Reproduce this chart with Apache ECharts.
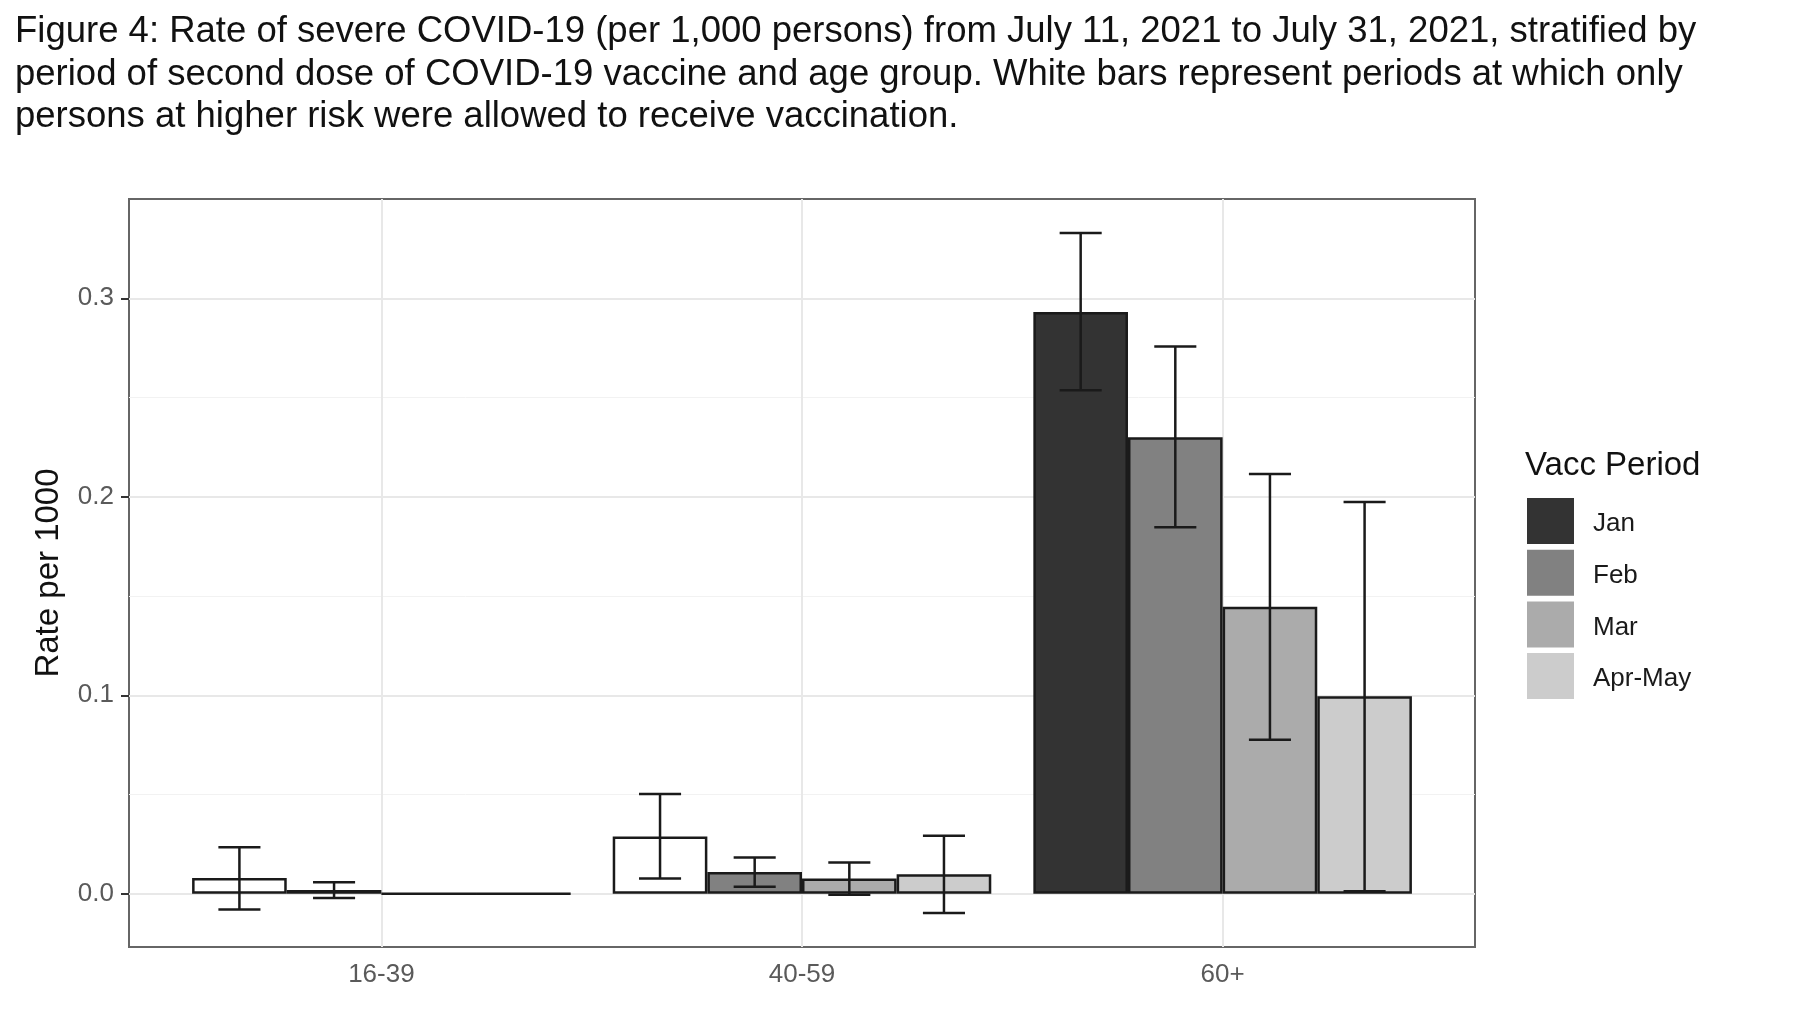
<!DOCTYPE html>
<html>
<head>
<meta charset="utf-8">
<title>Rate of severe COVID-19 by vaccination period and age group</title>
<script src="https://cdn.jsdelivr.net/npm/echarts@6.0.0/dist/echarts.min.js"></script>
<style>
  html, body { margin: 0; padding: 0; background: #fff; }
  #chart { width: 1800px; height: 1024px; }
</style>
</head>
<body>
<div id="chart"></div>
<script>
const ageGroups = ['16-39', '40-59', '60+'];
const periods = ['Jan', 'Feb', 'Mar', 'Apr-May'];

// rate per 1000, one value per age group
const rateJan = [0.0079, 0.0288, 0.2931];
const rateFeb = [0.0019, 0.0110, 0.2300];
const rateMar = [0, 0.0077, 0.1446];
const rateAprMay = [0, 0.0098, 0.0995];

// confidence limits (null = no error bar)
const lowJan = [-0.0079, 0.0077, 0.2537];
const highJan = [0.0234, 0.0502, 0.3329];
const lowFeb = [-0.0022, 0.0035, 0.1846];
const highFeb = [0.0058, 0.0182, 0.2757];
const lowMar = [null, -0.0005, 0.0776];
const highMar = [null, 0.0158, 0.2115];
const lowAprMay = [null, -0.0097, 0.0012];
const highAprMay = [null, 0.0292, 0.1974];

// periods when only higher-risk persons could be vaccinated (white bars)
const highRiskJan = [true, true, false];
const highRiskFeb = [true, false, false];
const highRiskMar = [false, false, false];
const highRiskAprMay = [false, false, false];

const yTicks = [0, 0.1, 0.2, 0.3];
const yMinorTicks = [0.05, 0.15, 0.25];

const rates = [rateJan, rateFeb, rateMar, rateAprMay];
const lows = [lowJan, lowFeb, lowMar, lowAprMay];
const highs = [highJan, highFeb, highMar, highAprMay];
const highRisk = [highRiskJan, highRiskFeb, highRiskMar, highRiskAprMay];
const fills = ['#333333', '#818181', '#ababab', '#cccccc'];

const FONT = '"Liberation Sans", Arial, sans-serif';
const groupGap = 0.1;   // dodge width 0.9
const capWidth = 0.1;   // whisker width, in bands

// panel and ggplot-like discrete expansion (0.6 band each side)
const panel = { left: 129, top: 199, width: 1346, height: 748 };
const band = panel.width / (ageGroups.length - 1 + 1.2);
const inset = 0.1 * band;

// y limits with 5% expansion, like ggplot
const vals = [0].concat(...rates, ...lows, ...highs).filter(v => v != null);
const lo = Math.min(...vals), hi = Math.max(...vals);
const yMin = lo - 0.05 * (hi - lo);
const yMax = hi + 0.05 * (hi - lo);

function errorBars(slot) {
  return function (params, api) {
    const i = api.value(0);
    const band = api.size([1, 0])[0];
    const barW = band * (1 - groupGap) / periods.length;
    const x = api.coord([i, 0])[0] + (slot - (periods.length - 1) / 2) * barW;
    const half = band * capWidth / 2;
    const yLo = api.coord([i, api.value(1)])[1];
    const yHi = api.coord([i, api.value(2)])[1];
    const style = { stroke: '#1a1a1a', lineWidth: 2.5 };
    return {
      type: 'group',
      children: [
        { type: 'line', shape: { x1: x, y1: yHi, x2: x, y2: yLo }, style },
        { type: 'line', shape: { x1: x - half, y1: yHi, x2: x + half, y2: yHi }, style },
        { type: 'line', shape: { x1: x - half, y1: yLo, x2: x + half, y2: yLo }, style }
      ]
    };
  };
}

const barSeries = periods.map((p, k) => ({
  name: p,
  type: 'bar',
  xAxisIndex: 1,
  yAxisIndex: 1,
  barGap: '0%',
  barCategoryGap: (groupGap * 100) + '%',
  z: 2,
  itemStyle: { color: fills[k], borderColor: '#1a1a1a', borderWidth: 2.5 },
  data: rates[k].map((v, i) => ({
    value: v,
    itemStyle: highRisk[k][i] ? { color: '#ffffff' } : undefined
  }))
}));

const errSeries = periods.map((p, k) => ({
  name: 'ci-' + p,
  type: 'custom',
  xAxisIndex: 1,
  yAxisIndex: 1,
  z: 3,
  clip: false,
  renderItem: errorBars(k),
  encode: { x: 0, y: [1, 2] },
  data: ageGroups.map((g, i) => [i, lows[k][i], highs[k][i]]).filter(d => d[1] != null)
}));

const gridSeries = [
  {
    type: 'line', xAxisIndex: 0, yAxisIndex: 0, data: [], silent: true,
    markLine: {
      z: 1, silent: true, symbol: 'none', animation: false, label: { show: false },
      data: yTicks.map(v => ({ yAxis: v, lineStyle: { color: '#e8e8e8', width: 2, type: 'solid' } }))
        .concat(yMinorTicks.map(v => ({ yAxis: v, lineStyle: { color: '#f2f2f2', width: 1, type: 'solid' } })))
    }
  },
  {
    type: 'line', xAxisIndex: 1, yAxisIndex: 1, data: [], silent: true,
    markLine: {
      z: 1, silent: true, symbol: 'none', animation: false, label: { show: false },
      data: ageGroups.map(g => ({ xAxis: g, lineStyle: { color: '#e8e8e8', width: 2, type: 'solid' } }))
    }
  }
];

const chart = echarts.init(document.getElementById('chart'));
chart.setOption({
  animation: false,
  backgroundColor: '#ffffff',
  textStyle: { fontFamily: FONT },
  title: {
    text: 'Figure 4: Rate of severe COVID-19 (per 1,000 persons) from July 11, 2021 to July 31, 2021, stratified by\n' +
      'period of second dose of COVID-19 vaccine and age group. White bars represent periods at which only\n' +
      'persons at higher risk were allowed to receive vaccination.',
    left: 15,
    top: 11,
    padding: 0,
    textStyle: { fontFamily: FONT, fontSize: 36.5, fontWeight: 'normal', color: '#111', lineHeight: 42.5 }
  },
  legend: {
    data: periods,
    orient: 'vertical',
    left: 1527,
    top: 498,
    padding: 0,
    itemWidth: 47,
    itemHeight: 46,
    itemGap: 5.7,
    icon: 'rect',
    selectedMode: false,
    itemStyle: { borderWidth: 0 },
    formatter: '{t|{name}}',
    textStyle: {
      fontFamily: FONT, fontSize: 26, color: '#1a1a1a', padding: [0, 0, 0, 14],
      rich: { t: { fontFamily: FONT, fontSize: 26, color: '#1a1a1a', padding: [6, 0, 0, 0] } }
    }
  },
  graphic: [
    {
      type: 'text', x: 49, y: panel.top + panel.height / 2, rotation: Math.PI / 2,
      style: { text: 'Rate per 1000', font: '33px ' + FONT, fill: '#111', align: 'center', verticalAlign: 'middle' }
    },
    {
      type: 'text', x: 1525, y: 466,
      style: { text: 'Vacc Period', font: '33px ' + FONT, fill: '#111', align: 'left', verticalAlign: 'middle' }
    }
  ],
  grid: [
    {
      left: panel.left, top: panel.top, width: panel.width, height: panel.height,
      containLabel: false, outerBoundsMode: 'none',
      show: true, borderColor: '#666', borderWidth: 2, backgroundColor: 'transparent'
    },
    {
      left: panel.left + inset, top: panel.top, width: panel.width - 2 * inset, height: panel.height,
      containLabel: false, outerBoundsMode: 'none'
    }
  ],
  xAxis: [
    { type: 'value', gridIndex: 0, min: 0, max: 1, show: false },
    {
      type: 'category', gridIndex: 1, data: ageGroups,
      axisLine: { show: false },
      axisTick: { show: true, alignWithLabel: true, length: 8, lineStyle: { color: '#333', width: 2 } },
      axisLabel: { fontFamily: FONT, fontSize: 26, color: '#5a5a5a', margin: 15 },
      splitLine: { show: false }
    }
  ],
  yAxis: [
    {
      type: 'value', gridIndex: 0, min: yMin, max: yMax,
      axisLine: { show: false },
      axisTick: { show: true, customValues: yTicks, length: 8, lineStyle: { color: '#333', width: 2 } },
      axisLabel: { customValues: yTicks, formatter: v => v.toFixed(1), fontFamily: FONT, fontSize: 26, color: '#5a5a5a', margin: 15 },
      splitLine: { show: false }
    },
    { type: 'value', gridIndex: 1, min: yMin, max: yMax, show: false }
  ],
  series: gridSeries.concat(barSeries, errSeries)
});
</script>
</body>
</html>
